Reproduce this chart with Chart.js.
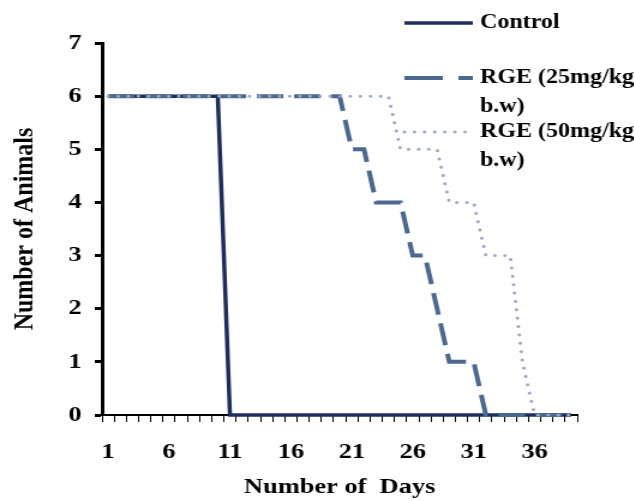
<!DOCTYPE html>
<html>
<head>
<meta charset="utf-8">
<title>Number of Animals vs Number of Days</title>
<script src="https://cdn.jsdelivr.net/npm/chart.js@4.4.0/dist/chart.umd.min.js"></script>
<style>
    html, body { margin: 0; padding: 0; background: #fff; overflow: hidden; }
    /* the original picture is stretched sideways, so the chart is drawn narrower and widened */
    #wrap { width: 528px; height: 501px; transform: scaleX(1.2); transform-origin: 0 0; }
</style>
</head>
<body>
<div id="wrap"><canvas id="survivalChart" width="528" height="501"></canvas></div>
<script>
// --- Data ---
const days = [1, 2, 3, 4, 5, 6, 7, 8, 9, 10, 11, 12, 13, 14, 15, 16, 17, 18, 19, 20,
    21, 22, 23, 24, 25, 26, 27, 28, 29, 30, 31, 32, 33, 34, 35, 36, 37, 38, 39];
const control = [6, 6, 6, 6, 6, 6, 6, 6, 6, 6, 0, 0, 0, 0, 0, 0, 0, 0, 0, 0,
    0, 0, 0, 0, 0, 0, 0, 0, 0, 0, 0, 0, 0, 0, 0, 0, 0, 0, 0];
const rge25 = [6, 6, 6, 6, 6, 6, 6, 6, 6, 6, 6, 6, 6, 6, 6, 6, 6, 6, 6, 6,
    5, 5, 4, 4, 4, 3, 3, 2, 1, 1, 1, 0, 0, 0, 0, 0, 0, 0, 0];
const rge50 = [6, 6, 6, 6, 6, 6, 6, 6, 6, 6, 6, 6, 6, 6, 6, 6, 6, 6, 6, 6,
    6, 6, 6, 6, 5, 5, 5, 5, 4, 4, 4, 3, 3, 3, 1, 0, 0, 0, 0];
const yTicks = [0, 1, 2, 3, 4, 5, 6, 7];
const seriesNames = ['Control', ['RGE (25mg/kg', 'b.w)'], ['RGE (50mg/kg', 'b.w)']];

const serif = '"Liberation Serif", "Times New Roman", serif';

// --- Legend drawn at the top right, over the plot ---
const sideLegend = {
    id: 'sideLegend',
    afterDraw(chart) {
        const ctx = chart.ctx;
        const rows = [
            { y: 23, color: '#1f2d5e', width: 3.5, dash: [], cap: 'butt', text: seriesNames[0] },
            { y: 78, color: '#4a6890', width: 4, dash: [32, 13], cap: 'butt', text: seriesNames[1] },
            { y: 132, color: '#9ba8c6', width: 3, dash: [0.01, 8.4], cap: 'round', text: seriesNames[2] }
        ];
        ctx.save();
        ctx.font = 'bold 20px ' + serif;
        ctx.textBaseline = 'middle';
        ctx.fillStyle = '#000';
        rows.forEach(r => {
            ctx.beginPath();
            ctx.strokeStyle = r.color;
            ctx.lineWidth = r.width;
            ctx.lineCap = r.cap;
            ctx.setLineDash(r.dash);
            ctx.moveTo(337, r.y);
            ctx.lineTo(394, r.y);
            ctx.stroke();
            const lines = Array.isArray(r.text) ? r.text : [r.text];
            lines.forEach((t, i) => ctx.fillText(t, 400, r.y + i * 29));
        });
        ctx.restore();
    }
};

const ctx = document.getElementById('survivalChart').getContext('2d');
new Chart(ctx, {
    type: 'line',
    data: {
        labels: days,
        datasets: [
            {
                label: 'Control',
                data: control,
                borderColor: '#1f2d5e',
                borderWidth: 3.5,
                order: 2
            },
            {
                label: 'RGE (25mg/kg b.w)',
                data: rge25,
                borderColor: '#4a6890',
                borderWidth: 4,
                borderDash: [22, 9],
                order: 1
            },
            {
                label: 'RGE (50mg/kg b.w)',
                data: rge50,
                borderColor: '#9ba8c6',
                borderWidth: 3,
                borderDash: [0.01, 8.4],
                borderCapStyle: 'round',
                order: 0
            }
        ]
    },
    options: {
        responsive: false,
        animation: false,
        devicePixelRatio: 1,
        layout: { padding: { left: 0, top: 43, right: 47, bottom: 0 } },
        elements: {
            point: { radius: 0 },
            line: { tension: 0, fill: false }
        },
        datasets: { line: { clip: false } },
        plugins: {
            legend: { display: false },
            tooltip: { enabled: false }
        },
        scales: {
            x: {
                type: 'category',
                offset: true,
                afterFit: s => { s.height = 86; },
                grid: { offset: true, drawOnChartArea: false, color: '#000', tickLength: 7, tickWidth: 1 },
                border: { display: true, color: '#000', width: 2 },
                ticks: {
                    autoSkip: false,
                    maxRotation: 0,
                    color: '#000',
                    padding: 17,
                    font: { family: serif, size: 22, weight: 'bold' },
                    callback: (v, i) => (i % 5 === 0 ? days[i] : '')
                },
                title: {
                    display: true,
                    text: 'Number of  Days',
                    color: '#000',
                    padding: { top: 0, bottom: 0 },
                    font: { family: serif, size: 22, weight: 'bold' }
                }
            },
            y: {
                min: yTicks[0],
                max: yTicks[yTicks.length - 1],
                afterFit: s => { s.width = 85; },
                grid: { drawOnChartArea: false, color: '#000', tickLength: 6, tickWidth: 3 },
                border: { display: true, color: '#000', width: 3 },
                afterBuildTicks: s => { s.ticks = yTicks.map(v => ({ value: v })); },
                ticks: {
                    color: '#000',
                    padding: 11,
                    font: { family: serif, size: 22, weight: 'bold' }
                },
                title: {
                    display: true,
                    text: 'Number of Animals',
                    color: '#000',
                    padding: { top: 6, bottom: 0 },
                    font: { family: serif, size: 24, weight: 'bold' }
                }
            }
        }
    },
    plugins: [sideLegend]
});
</script>
</body>
</html>
